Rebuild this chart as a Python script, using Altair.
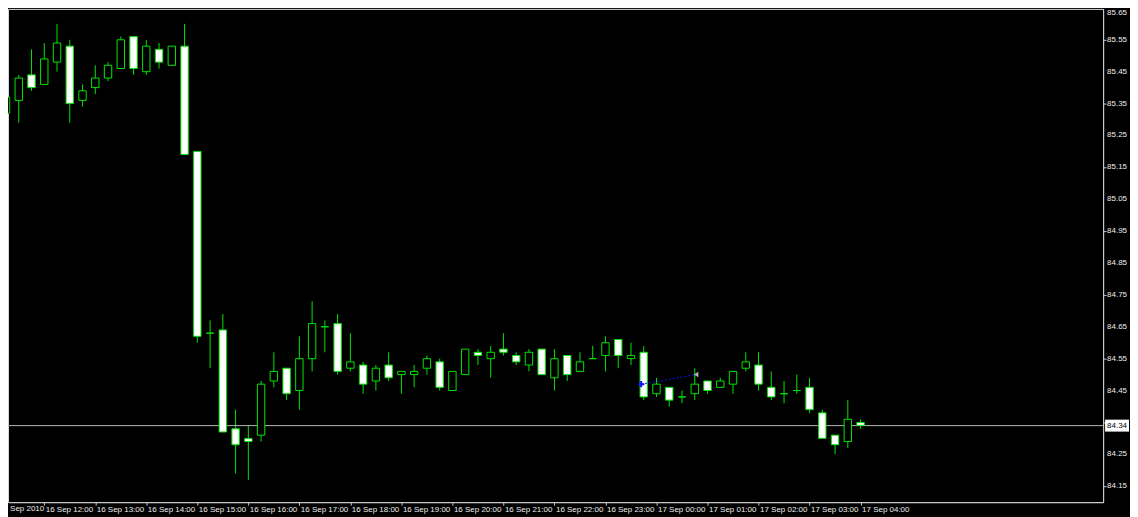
import altair as alt
import pandas as pd

# ---- data (15-minute bars, 16 Sep 11:15 .. 17 Sep 04:00) ----
opens = [85.32, 85.36, 85.44, 85.41, 85.48, 85.53, 85.36, 85.40, 85.43, 85.46,
         85.56, 85.45, 85.52, 85.47, 85.53, 85.20, 84.63, 84.64, 84.33, 84.30,
         84.31, 84.48, 84.52, 84.45, 84.55, 84.65, 84.66, 84.52, 84.53, 84.48,
         84.53, 84.50, 84.50, 84.52, 84.54, 84.45, 84.50, 84.57, 84.55, 84.58,
         84.56, 84.53, 84.58, 84.49, 84.56, 84.51, 84.55, 84.56, 84.61, 84.55,
         84.57, 84.44, 84.46, 84.43, 84.44, 84.48, 84.46, 84.47, 84.52, 84.53,
         84.46, 84.44, 84.45, 84.46, 84.38, 84.31, 84.29, 84.35]
highs = [85.38, 85.44, 85.52, 85.54, 85.60, 85.55, 85.41, 85.47, 85.48, 85.56,
         85.56, 85.55, 85.54, 85.53, 85.60, 85.20, 84.67, 84.69, 84.39, 84.34,
         84.48, 84.57, 84.52, 84.62, 84.73, 84.67, 84.69, 84.63, 84.54, 84.53,
         84.57, 84.51, 84.53, 84.56, 84.55, 84.51, 84.58, 84.58, 84.59, 84.63,
         84.57, 84.58, 84.58, 84.58, 84.56, 84.57, 84.59, 84.62, 84.61, 84.60,
         84.59, 84.49, 84.46, 84.45, 84.52, 84.48, 84.49, 84.51, 84.57, 84.57,
         84.51, 84.48, 84.50, 84.49, 84.39, 84.31, 84.42, 84.36]
lows = [85.29, 85.29, 85.39, 85.41, 85.45, 85.29, 85.34, 85.38, 85.42, 85.46,
        85.44, 85.44, 85.46, 85.47, 85.19, 84.60, 84.52, 84.32, 84.19, 84.17,
        84.29, 84.46, 84.42, 84.39, 84.51, 84.57, 84.50, 84.51, 84.44, 84.45,
        84.48, 84.44, 84.46, 84.50, 84.45, 84.45, 84.50, 84.53, 84.49, 84.56,
        84.53, 84.51, 84.50, 84.45, 84.48, 84.51, 84.55, 84.51, 84.52, 84.53,
        84.42, 84.43, 84.40, 84.41, 84.42, 84.44, 84.46, 84.44, 84.51, 84.45,
        84.42, 84.41, 84.44, 84.38, 84.30, 84.25, 84.27, 84.33]
closes = [85.37, 85.43, 85.40, 85.49, 85.54, 85.35, 85.39, 85.43, 85.47, 85.55,
          85.46, 85.53, 85.48, 85.53, 85.19, 84.62, 84.63, 84.32, 84.28, 84.29,
          84.47, 84.51, 84.44, 84.55, 84.66, 84.65, 84.51, 84.54, 84.47, 84.52,
          84.49, 84.51, 84.51, 84.55, 84.46, 84.51, 84.58, 84.56, 84.57, 84.57,
          84.54, 84.57, 84.50, 84.55, 84.50, 84.54, 84.55, 84.60, 84.56, 84.56,
          84.43, 84.47, 84.42, 84.43, 84.47, 84.45, 84.48, 84.51, 84.54, 84.47,
          84.43, 84.44, 84.45, 84.39, 84.30, 84.28, 84.36, 84.34]

hour_ticks = [3, 7, 11, 15, 19, 23, 27, 31, 35, 39, 43, 47, 51, 55, 59, 63, 67]
hour_labels = ["16 Sep 12:00", "16 Sep 13:00", "16 Sep 14:00", "16 Sep 15:00",
               "16 Sep 16:00", "16 Sep 17:00", "16 Sep 18:00", "16 Sep 19:00",
               "16 Sep 20:00", "16 Sep 21:00", "16 Sep 22:00", "16 Sep 23:00",
               "17 Sep 00:00", "17 Sep 01:00", "17 Sep 02:00", "17 Sep 03:00",
               "17 Sep 04:00"]
first_label = "16 Sep 2010"
price_ticks = [84.15, 84.25, 84.35, 84.45, 84.55, 84.65, 84.75, 84.85, 84.95,
               85.05, 85.15, 85.25, 85.35, 85.45, 85.55, 85.65]
top_price = max(price_ticks)
# 84.35 is hidden behind the bid-price box in the reference
price_labels = [p for p in price_ticks if p not in (84.35, top_price)]
bid = 84.34
trend_idx = [49.8, 54.1]
trend_price = [84.47, 84.50]

GREEN = "#00e400"
AXIS = "#c8c8c8"
LABEL = "#ececec"
FONT = "Liberation Sans"

n = len(opens)
df = pd.DataFrame({"i": list(range(n)), "open": opens, "high": highs,
                   "low": lows, "close": closes})
df["kind"] = ["bear" if c < o else ("bull" if c > o else "doji")
              for o, c in zip(opens, closes)]

x_scale = alt.Scale(domain=[0.15625, 86.015625], nice=False, zero=False)
y_scale = alt.Scale(domain=[84.10, 85.646875], nice=False, zero=False)

label_arr = "[" + ",".join("'" + s + "'" for s in hour_labels) + "]"
x_axis = alt.Axis(values=hour_ticks, title=None, grid=False,
                  labelExpr=label_arr + "[round((datum.value - 3) / 4)]",
                  labelAlign="left", labelBaseline="top", labelPadding=0,
                  labelOffset=1, labelFlush=False, labelOverlap=False,
                  tickSize=3, tickColor=AXIS, domainColor=AXIS,
                  labelColor=LABEL, labelFont=FONT, labelFontSize=8)
y_axis = alt.Axis(values=price_ticks, orient="right", title=None, grid=False,
                  labels=False, tickSize=3, tickColor=AXIS, domainColor=AXIS)

base = alt.Chart(df)

wicks = base.mark_rule(color=GREEN, strokeWidth=1).encode(
    x=alt.X("i:Q", scale=x_scale, axis=x_axis),
    y=alt.Y("low:Q", scale=y_scale, axis=y_axis),
    y2="high:Q",
)

bodies = base.transform_calculate(
    xa="datum.i - 0.29", xb="datum.i + 0.29"
).mark_rect(stroke=GREEN, strokeWidth=1).encode(
    x=alt.X("xa:Q", title=None),
    x2="xb:Q",
    y=alt.Y("open:Q", title=None),
    y2="close:Q",
    fill=alt.Fill("kind:N", legend=None,
                  scale=alt.Scale(domain=["bear", "bull", "doji"],
                                  range=["#ffffff", "#000000", "#000000"])),
)

# right-hand price labels
ylab_df = pd.DataFrame({"p": price_labels})
y_labels = alt.Chart(ylab_df).mark_text(
    align="left", baseline="middle", color=LABEL, font=FONT, fontSize=8
).encode(x=alt.value(1103), y=alt.Y("p:Q", title=None),
         text=alt.Text("p:Q", format=".2f"))
top_df = pd.DataFrame({"p": [top_price]})
y_top_label = alt.Chart(top_df).mark_text(
    align="left", baseline="top", dy=1, color=LABEL, font=FONT, fontSize=8
).encode(x=alt.value(1103), y=alt.Y("p:Q", title=None),
         text=alt.Text("p:Q", format=".2f"))

bid_df = pd.DataFrame({"p": [bid]})
bid_line = alt.Chart(bid_df).mark_rule(color="#b4b4b4", strokeWidth=1).encode(
    y=alt.Y("p:Q", title=None))
bid_box = alt.Chart(bid_df).mark_rule(color="#ffffff", strokeWidth=12).encode(
    x=alt.value(1101), x2=alt.value(1125), y=alt.Y("p:Q", title=None))
bid_text = alt.Chart(bid_df).mark_text(
    align="left", baseline="middle", color="#000000", font=FONT, fontSize=8
).encode(x=alt.value(1103), y=alt.Y("p:Q", title=None),
         text=alt.Text("p:Q", format=".2f"))

tr_df = pd.DataFrame({"i": trend_idx, "p": trend_price})
trend = alt.Chart(tr_df).mark_line(color="#1010ff", strokeWidth=1,
                                   strokeDash=[2, 2]).encode(
    x=alt.X("i:Q", title=None), y=alt.Y("p:Q", title=None))
trend_start = alt.Chart(tr_df.iloc[[0]]).mark_point(
    shape="M-1,0H1M0,-1V1", color="#1010ff", strokeWidth=2, size=40,
    opacity=1).encode(x="i:Q", y="p:Q")
trend_end = alt.Chart(tr_df.iloc[[1]]).mark_point(
    shape="triangle-left", filled=True, color="#b0b0b0", size=30,
    opacity=1).encode(x="i:Q", y="p:Q")

first_df = pd.DataFrame({"t": [first_label]})
first_txt = alt.Chart(first_df).mark_text(
    align="left", baseline="top", color=LABEL, font=FONT, fontSize=8
).encode(x=alt.value(-9), y=alt.value(498), text="t:N")

chart = alt.layer(
    wicks, bid_line, bodies, trend, trend_start, trend_end,
    y_labels, y_top_label, bid_box, bid_text, first_txt
).properties(
    width=1099, height=495,
    background="#000000",
    padding={"left": 0, "top": 0, "right": 27, "bottom": 14},
    autosize=alt.AutoSizeParams(type="none"),
).configure_view(fill="#000000", strokeWidth=0).configure(
    font=FONT
).configure_axis(labelOverlap=False, labelFlush=False)

chart.save("out.html", embed_options={"renderer": "svg", "actions": False})
